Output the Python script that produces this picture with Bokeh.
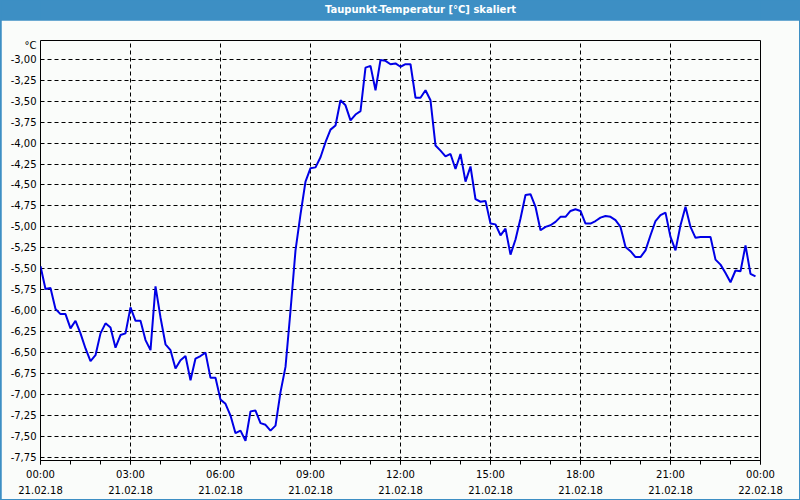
from bokeh.plotting import figure
from bokeh.models import Range1d, FixedTicker, Label, ColumnDataSource
from bokeh.layouts import column
from bokeh.embed import file_html
from bokeh.resources import INLINE

# ---------------- data ----------------
title_text = "Taupunkt-Temperatur [°C] skaliert"
unit_text = "°C"
step_minutes = 10  # one reading every 10 minutes, starting 21.02.18 00:00

dewpoint = [
    -5.47, -5.74, -5.73, -5.98, -6.04, -6.04, -6.21, -6.12, -6.27, -6.45, -6.60, -6.53,
    -6.27, -6.15, -6.20, -6.44, -6.29, -6.27, -5.96, -6.12, -6.12, -6.35, -6.47, -5.71,
    -6.08, -6.40, -6.47, -6.69, -6.59, -6.54, -6.83, -6.57, -6.54, -6.50, -6.80, -6.80,
    -7.06, -7.11, -7.25, -7.46, -7.43, -7.55, -7.20, -7.19, -7.34, -7.36, -7.43, -7.37,
    -6.97, -6.67, -6.00, -5.28, -4.85, -4.46, -4.30, -4.29, -4.17, -3.99, -3.84, -3.79,
    -3.49, -3.55, -3.73, -3.66, -3.62, -3.10, -3.08, -3.37, -3.01, -3.02, -3.06, -3.05,
    -3.09, -3.06, -3.06, -3.46, -3.46, -3.37, -3.49, -4.03, -4.09, -4.16, -4.13, -4.31,
    -4.13, -4.46, -4.28, -4.67, -4.70, -4.69, -4.96, -4.97, -5.10, -5.02, -5.33, -5.15,
    -4.90, -4.62, -4.61, -4.76, -5.04, -5.00, -4.98, -4.94, -4.88, -4.88, -4.81, -4.79,
    -4.81, -4.96, -4.96, -4.93, -4.89, -4.87, -4.88, -4.92, -5.00, -5.24, -5.29, -5.36,
    -5.36, -5.28, -5.10, -4.93, -4.86, -4.83, -5.12, -5.28, -4.98, -4.76, -5.00, -5.13,
    -5.12, -5.12, -5.12, -5.39, -5.45, -5.55, -5.66, -5.52, -5.53, -5.22, -5.56, -5.59,
]
hours = [i * step_minutes / 60 for i in range(len(dewpoint))]

x_ticks = [0, 3, 6, 9, 12, 15, 18, 21, 24]
x_minor_ticks = list(range(0, 25))
x_tick_labels = [
    "00:00\n21.02.18", "03:00\n21.02.18", "06:00\n21.02.18", "09:00\n21.02.18",
    "12:00\n21.02.18", "15:00\n21.02.18", "18:00\n21.02.18", "21:00\n21.02.18",
    "00:00\n22.02.18",
]
y_ticks = [-7.75, -7.50, -7.25, -7.00, -6.75, -6.50, -6.25, -6.00, -5.75, -5.50,
           -5.25, -5.00, -4.75, -4.50, -4.25, -4.00, -3.75, -3.50, -3.25, -3.00]
y_tick_labels = ["-7,75", "-7,50", "-7,25", "-7,00", "-6,75", "-6,50", "-6,25", "-6,00",
                 "-5,75", "-5,50", "-5,25", "-5,00", "-4,75", "-4,50", "-4,25", "-4,00",
                 "-3,75", "-3,50", "-3,25", "-3,00"]

# ---------------- styles ----------------
BLUE = "#3d8fc4"
BG = "#fafcfa"
LINE = "#0000e6"
FONT = "DejaVu Sans"
UNIT_POS = -2.84  # where the unit caption sits on the value axis (above the top tick)

# title bar (its frame is aligned by the column with the chart frame: pixels 39..759)
t = figure(width=798, height=20, x_range=Range1d(39, 759), y_range=Range1d(0, 20),
           toolbar_location=None, output_backend="svg",
           x_axis_location=None, y_axis_location=None,
           min_border_left=39, min_border_right=39, min_border_top=0, min_border_bottom=0)
t.grid.visible = False
t.outline_line_color = None
t.background_fill_color = BLUE
t.border_fill_color = BLUE
t.add_layout(Label(x=419, y=11, text=title_text, text_align="center", text_baseline="middle",
                   text_color="white", text_font=FONT, text_font_style="bold",
                   text_font_size="10px"))

# main chart
p = figure(frame_width=720, frame_height=420,
           x_range=Range1d(0, 24), y_range=Range1d(-7.786, -2.777),
           toolbar_location=None, output_backend="svg",
           min_border_left=39, min_border_right=39, min_border_top=20, min_border_bottom=39)
p.background_fill_color = BG
p.border_fill_color = BG
p.outline_line_color = "black"
p.outline_line_width = 1

src = ColumnDataSource(dict(hours=hours, dewpoint=dewpoint))
p.line("hours", "dewpoint", source=src, line_color=LINE, line_width=2)

xa = p.xaxis[0]
xa.ticker = FixedTicker(ticks=x_ticks, minor_ticks=x_minor_ticks)
xa.major_label_overrides = {tk: lab for tk, lab in zip(x_ticks, x_tick_labels)}
xa.major_tick_in = 0
xa.major_tick_out = 4
xa.minor_tick_in = 0
xa.minor_tick_out = 4
xa.axis_line_color = "black"
xa.major_label_text_font = FONT
xa.major_label_text_font_size = "10px"
xa.major_label_text_color = "black"
xa.major_label_text_line_height = 1.5
xa.major_label_standoff = 4

ya = p.yaxis[0]
ya.ticker = FixedTicker(ticks=y_ticks + [UNIT_POS], minor_ticks=[])
overrides = {tk: lab for tk, lab in zip(y_ticks, y_tick_labels)}
overrides[UNIT_POS] = unit_text
ya.major_label_overrides = overrides
ya.major_tick_in = 0
ya.major_tick_out = 0
ya.minor_tick_out = 0
ya.axis_line_color = None
ya.major_label_text_font = FONT
ya.major_label_text_font_size = "10px"
ya.major_label_text_color = "black"
ya.major_label_standoff = 4

for g in (p.xgrid[0], p.ygrid[0]):
    g.grid_line_color = "black"
    g.grid_line_dash = "4 3"
    g.grid_line_width = 1
    g.grid_line_alpha = 1
p.xgrid[0].ticker = FixedTicker(ticks=x_ticks)
p.ygrid[0].ticker = FixedTicker(ticks=y_ticks)

layout = column(t, p, spacing=0,
                styles={"border-left": f"1px solid {BLUE}", "border-right": f"1px solid {BLUE}",
                        "border-bottom": f"1px solid {BLUE}", "background-color": BLUE})
open("out.html", "w").write(file_html(layout, INLINE))
